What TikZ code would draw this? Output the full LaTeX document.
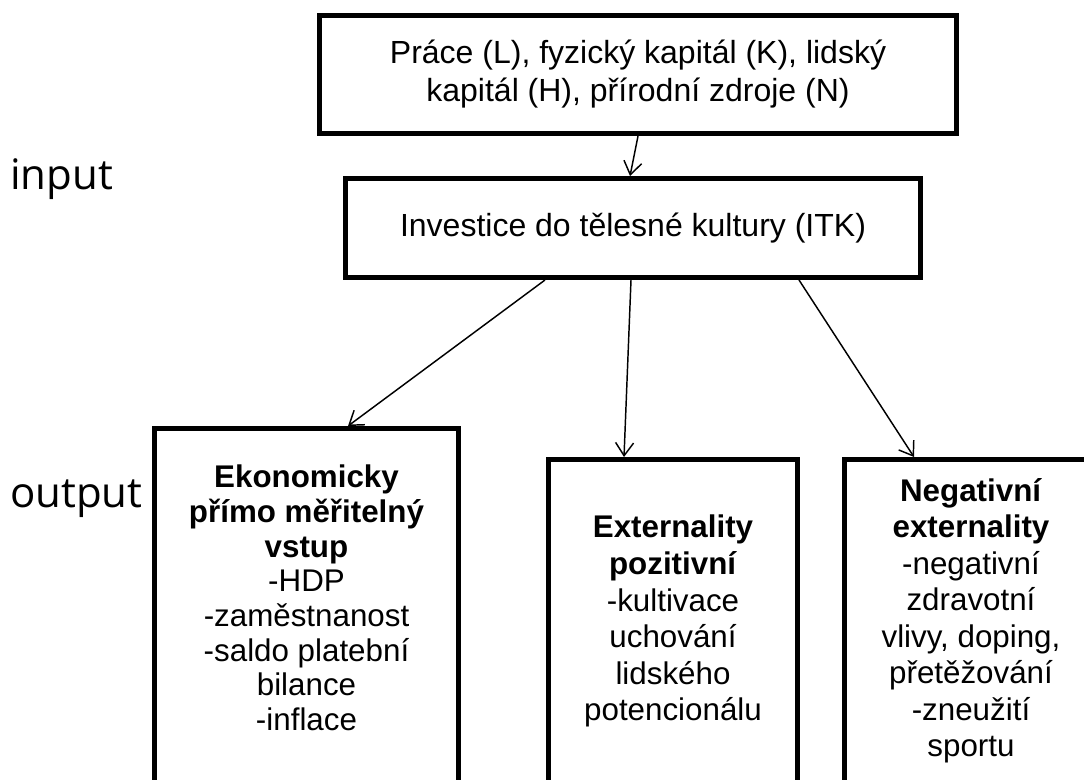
\documentclass[tikz,border=0pt]{standalone}
\usepackage{fontspec}
\setmainfont{Liberation Sans}
\newfontfamily\labelfont{Open Sans}
\usetikzlibrary{arrows.meta,calc}
\begin{document}
\begin{tikzpicture}[x=0.75pt,y=-0.75pt,
  box/.style={draw=black,line width=3.75pt,fill=white,inner sep=0pt},
  boxtext/.style={align=center,inner sep=0pt,font=\fontsize{23.5pt}{27.4pt}\selectfont},
  conn/.style={draw=black,line width=1.1pt,-{Straight Barb[length=9.75pt,width=13.5pt]}},
  sidelabel/.style={anchor=base west,inner sep=0pt,font=\labelfont\fontsize{31.5pt}{36pt}\selectfont}]
\useasboundingbox (0,0) rectangle (1084,780);
\clip (0,0) rectangle (1084,780);
\fill[white] (0,0) rectangle (1084,780);

% top box
\node[box,minimum width=477.75pt,minimum height=88.5pt,align=center,
      font=\fontsize{24pt}{28.5pt}\selectfont] (top) at (638,74.5)
  {Práce (L), fyzický kapitál (K), lidský\\kapitál (H), přírodní zdroje (N)};

% investment box
\node[box,minimum width=431.25pt,minimum height=74.25pt,
      font=\fontsize{24pt}{28.5pt}\selectfont] (inv) at (633,228)
  {Investice do tělesné kultury (ITK)};

% output boxes (run past the bottom edge)
\node[box,minimum width=228pt,minimum height=316.125pt] (b1) at (306.5,639.25) {};
\node[box,minimum width=186.75pt,minimum height=292.875pt] (b2) at (673,654.75) {};
\node[box,minimum width=189.75pt,minimum height=292.875pt] (b3) at (971,654.75) {};

\node[boxtext,anchor=north,font=\fontsize{23.5pt}{26pt}\selectfont] (t1) at (306.5,465)
  {\textbf{Ekonomicky}\\\textbf{přímo měřitelný}\\\textbf{vstup}\\-HDP\\-zaměstnanost\\-saldo platební\\bilance\\-inflace};
\node[boxtext,anchor=north] (t2) at (673,515)
  {\textbf{Externality}\\\textbf{pozitivní}\\-kultivace\\uchování\\lidského\\potencionálu};
\node[boxtext,anchor=north] (t3) at (971,478)
  {\textbf{Negativní}\\\textbf{externality}\\-negativní\\zdravotní\\vlivy, doping,\\přetěžování\\-zneužití\\sportu};

% side labels
\node[sidelabel] (lin) at (10,190) {input};
\node[sidelabel] (lout) at (10,507) {output};

% connectors
\draw[conn] (top.south) -- ($(inv.north)+(-3,0)$);
\draw[conn] ($(inv.south)+(-88,0)$) -- ($(b1.north)+(41.5,0)$);
\draw[conn] ($(inv.south)+(-2,0)$) -- ($(b2.north)+(-49,0)$);
\draw[conn] ($(inv.south)+(166,0)$) -- ($(b3.north)+(-57,0)$);
\end{tikzpicture}
\end{document}
